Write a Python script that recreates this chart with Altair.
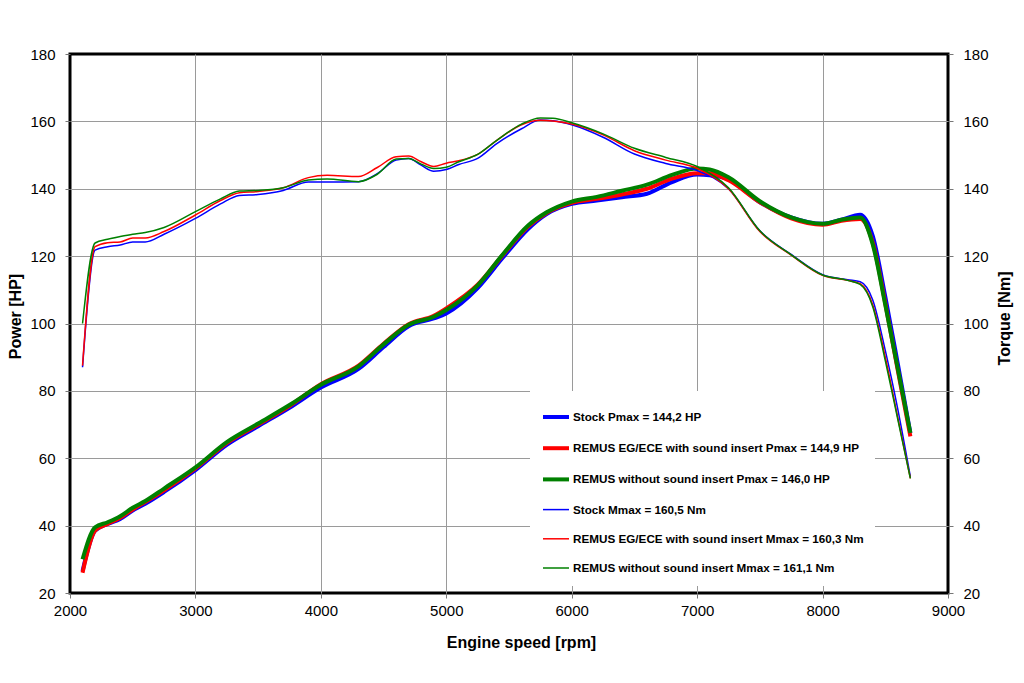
import altair as alt
import pandas as pd

# ---------------- data ----------------
series_names = [
    "Stock Pmax = 144,2 HP",
    "REMUS EG/ECE with sound insert Pmax =  144,9 HP",
    "REMUS without sound insert Pmax = 146,0 HP",
    "Stock Mmax = 160,5 Nm",
    "REMUS EG/ECE with sound insert Mmax = 160,3 Nm",
    "REMUS without sound insert Mmax = 161,1 Nm",
]
series_colors = ["#0000ff", "#ff0000", "#008000", "#0000ff", "#ff0000", "#008000"]
series_widths = [4, 4, 4, 1.5, 1.5, 1.5]

rpm_power = [2100, 2200, 2300, 2400, 2500, 2600, 2750, 3000, 3250, 3500, 3750,
             4000, 4300, 4500, 4700, 4900, 5000, 5250, 5450, 5650, 5800, 6000,
             6200, 6400, 6600, 6800, 7000, 7100, 7250, 7500, 7750, 8000, 8150,
             8300, 8400, 8500, 8600, 8700]
stock_power = [26.5, 38.5, 40.5, 42.0, 44.5, 46.5, 50.0, 56.5, 64.0, 69.5, 75.0,
               81.0, 86.5, 93.0, 99.2, 101.5, 103.0, 110.5, 119.5, 128.0, 132.5, 135.5,
               136.5, 137.5, 138.5, 142.0, 144.2, 144.0, 142.8, 136.0, 131.5, 129.6, 130.8,
               132.3, 126.0, 108.0, 88.0, 67.5]
eg_power = [26.0, 38.5, 40.5, 42.3, 44.8, 47.0, 50.5, 57.0, 64.5, 70.0, 75.5,
            82.0, 87.5, 94.0, 99.8, 102.3, 104.5, 111.5, 120.3, 128.7, 132.8, 135.8,
            137.0, 138.3, 140.0, 143.0, 144.6, 144.6, 142.5, 136.0, 131.2, 129.3, 130.5,
            131.0, 124.0, 106.0, 86.0, 66.5]
wo_power = [30.0, 39.5, 41.0, 42.8, 45.3, 47.3, 51.0, 57.3, 64.8, 70.3, 75.8,
            81.8, 87.3, 93.8, 99.6, 102.0, 104.0, 111.3, 120.5, 129.0, 133.0, 136.2,
            137.6, 139.4, 141.2, 144.1, 146.0, 145.7, 143.4, 136.3, 131.5, 129.6, 130.8,
            131.5, 123.5, 105.5, 86.5, 67.5]

rpm_torque = [2100, 2200, 2300, 2400, 2500, 2600, 2750, 3000, 3200, 3350, 3500,
              3700, 3900, 4050, 4300, 4450, 4600, 4700, 4800, 4900, 5000, 5100,
              5250, 5400, 5600, 5750, 5850, 6000, 6250, 6500, 6750, 7000, 7250,
              7500, 7750, 8000, 8200, 8300, 8400, 8500, 8600, 8700]
stock_torque = [87.0, 121.8, 122.8, 123.3, 124.2, 124.2, 126.5, 131.2, 135.5, 138.0, 138.3,
                139.5, 142.0, 142.0, 142.1, 144.5, 148.5, 149.0, 147.0, 145.2, 145.7, 147.2,
                149.0, 153.3, 157.8, 160.4, 160.2, 159.0, 155.3, 150.3, 147.5, 145.4, 140.0,
                127.5, 120.5, 114.5, 113.0, 112.4, 107.0, 92.0, 74.5, 54.5]
eg_torque = [87.5, 122.8, 124.0, 124.2, 125.4, 125.4, 127.3, 132.2, 136.5, 138.8, 139.2,
             140.3, 143.3, 144.0, 143.6, 146.3, 149.5, 149.7, 148.0, 146.6, 147.6, 148.3,
             150.2, 154.3, 159.0, 160.3, 160.1, 159.2, 156.0, 151.3, 148.5, 146.1, 140.0,
             127.3, 120.3, 114.3, 112.8, 111.8, 105.5, 90.0, 72.0, 54.0]
wo_torque = [100.0, 123.9, 125.0, 125.8, 126.5, 127.0, 128.5, 133.2, 137.0, 139.3, 139.5,
             140.3, 142.6, 142.9, 142.1, 144.3, 148.8, 149.0, 147.3, 146.0, 146.4, 148.0,
             150.2, 154.3, 159.2, 161.0, 160.9, 159.6, 156.3, 152.0, 149.3, 146.6, 140.3,
             127.5, 120.4, 114.4, 112.8, 111.6, 105.0, 89.0, 71.5, 54.0]

x_ticks = [2000, 3000, 4000, 5000, 6000, 7000, 8000, 9000]
y_ticks = [20, 40, 60, 80, 100, 120, 140, 160, 180]

# ---------------- tables ----------------
rows = []
for name, vals in zip(series_names[:3], [stock_power, eg_power, wo_power]):
    for r, v in zip(rpm_power, vals):
        rows.append({"rpm": r, "value": v, "series": name})
power_df = pd.DataFrame(rows)

rows = []
for name, vals in zip(series_names[3:], [stock_torque, eg_torque, wo_torque]):
    for r, v in zip(rpm_torque, vals):
        rows.append({"rpm": r, "value": v, "series": name})
torque_df = pd.DataFrame(rows)

FONT = "Liberation Sans"

legend = alt.Legend(
    title=None, orient="none", legendX=460, legendY=337,
    fillColor="white", padding=11, symbolType="stroke", symbolSize=676,
    labelFont=FONT, labelFontSize=11.7, labelFontWeight="bold", labelColor="black",
    labelLimit=500, labelOffset=2, rowPadding=8.2, symbolOpacity=1,
)

color = alt.Color("series:N", scale=alt.Scale(domain=series_names, range=series_colors),
                  legend=legend)
stroke_w = alt.StrokeWidth("series:N",
                           scale=alt.Scale(type="ordinal", domain=series_names, range=series_widths),
                           legend=legend)

edge_test = "datum.value == 2000 || datum.value == 9000 || datum.value == 20 || datum.value == 180"
grid_op = {"condition": {"test": edge_test, "value": 0}, "value": 1}

x_enc = alt.X("rpm:Q", scale=alt.Scale(domain=[2000, 9000], nice=False, zero=False),
              axis=alt.Axis(values=x_ticks, format="d", title="Engine speed [rpm]",
                            labelFlush=False, labelPadding=5, titlePadding=16,
                            titleX=451, gridOpacity=grid_op))

power = alt.Chart(power_df).mark_line(interpolate="monotone").encode(
    x=x_enc,
    y=alt.Y("value:Q", scale=alt.Scale(domain=[20, 180], nice=False, zero=False),
            axis=alt.Axis(values=y_ticks, title="Power [HP]", orient="left", labelFlush=False,
                          labelPadding=10, titlePadding=6, titleY=262, gridOpacity=grid_op)),
    color=color,
    strokeWidth=stroke_w,
)

torque = alt.Chart(torque_df).mark_line(interpolate="monotone").encode(
    x=x_enc,
    y=alt.Y("value:Q", scale=alt.Scale(domain=[20, 180], nice=False, zero=False),
            axis=alt.Axis(values=y_ticks, title="Torque [Nm]", orient="right", grid=False,
                          labelFlush=False, labelPadding=10, titlePadding=24, titleAngle=270,
                          titleY=264)),
    color=color,
    strokeWidth=stroke_w,
)

chart = alt.layer(power, torque).resolve_scale(y="independent").properties(
    width=878, height=539,
    padding={"left": 62, "top": 46, "right": 68, "bottom": 70},
    autosize=alt.AutoSizeParams(type="none"),
    background="white",
).configure_view(
    stroke="black", strokeWidth=3,
).configure_axis(
    domain=False, grid=True, gridColor="#9a9a9a", gridWidth=1,
    tickColor="#777777", tickSize=5,
    labelFont=FONT, labelFontSize=15, labelColor="black",
    titleFont=FONT, titleFontSize=16, titleFontWeight="bold", titleColor="black",
)

chart.save("out.html", embed_options={"renderer": "svg", "actions": False})
